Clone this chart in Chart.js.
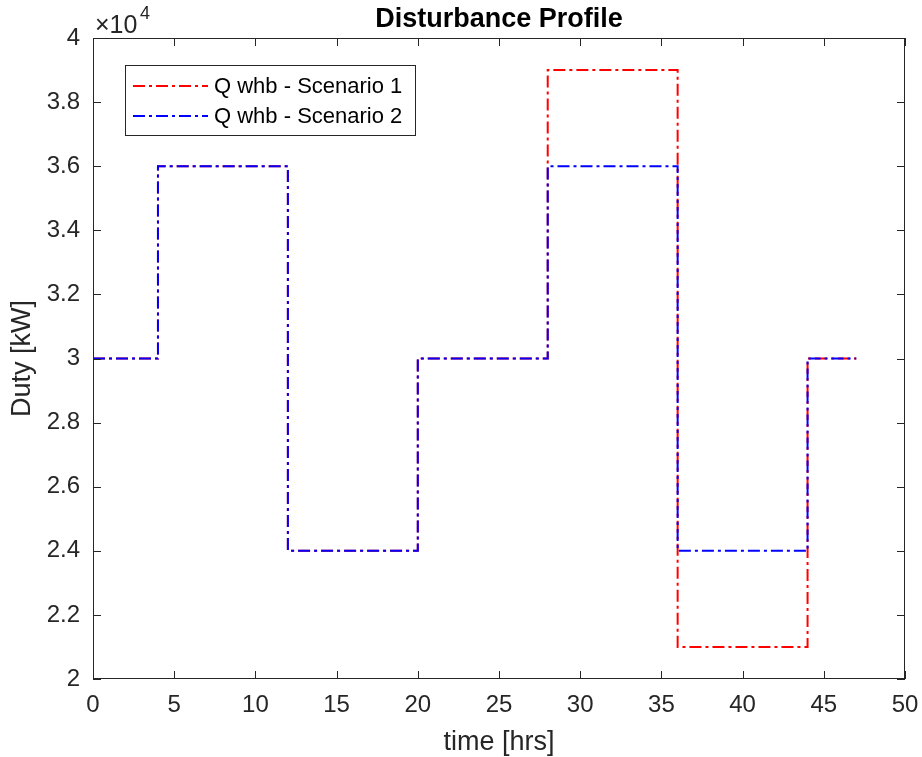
<!DOCTYPE html>
<html>
<head>
<meta charset="utf-8">
<script src="https://cdn.jsdelivr.net/npm/chart.js@4.4.1/dist/chart.umd.min.js"></script>
<style>
  html, body { margin: 0; padding: 0; background: #fff; }
  #wrap { width: 922px; height: 757px; }
</style>
</head>
<body>
<div id="wrap"><canvas id="chart" width="922" height="757"></canvas></div>
<script>
// step change times (hrs) and duties (kW)
const times = [0, 4, 12, 20, 28, 36, 44, 47];
const scenario1 = [30000, 36000, 24000, 30000, 39000, 21000, 30000, 30000];
const scenario2 = [30000, 36000, 24000, 30000, 36000, 24000, 30000, 30000];
const seriesNames = ["Q whb - Scenario 1", "Q whb - Scenario 2"];
const xTicks = [0, 5, 10, 15, 20, 25, 30, 35, 40, 45, 50];
const yTicks = [20000, 22000, 24000, 26000, 28000, 30000, 32000, 34000, 36000, 38000, 40000];

const axisColor = "#262626";
const dashDot = [12, 4, 3, 4];
const fontFam = "'Liberation Sans', Arial, sans-serif";

function pts(vals) {
  return times.map((t, i) => ({ x: t, y: vals[i] }));
}

// frame, inner ticks, exponent label, title and legend box
const matlabAxes = {
  id: "matlabAxes",
  afterDraw(chart) {
    const ctx = chart.ctx;
    const a = chart.chartArea;
    const xs = chart.scales.x, ys = chart.scales.y;
    ctx.save();
    ctx.strokeStyle = axisColor;
    ctx.lineWidth = 1;
    ctx.strokeRect(a.left + 0.5, a.top + 0.5, a.right - a.left - 1, a.bottom - a.top - 1);
    ctx.beginPath();
    xTicks.forEach(v => {
      const px = Math.round(xs.getPixelForValue(v)) + 0.5;
      ctx.moveTo(px, a.bottom); ctx.lineTo(px, a.bottom - 8);
      ctx.moveTo(px, a.top); ctx.lineTo(px, a.top + 8);
    });
    yTicks.forEach(v => {
      const py = Math.round(ys.getPixelForValue(v)) + 0.5;
      ctx.moveTo(a.left, py); ctx.lineTo(a.left + 8, py);
      ctx.moveTo(a.right, py); ctx.lineTo(a.right - 8, py);
    });
    ctx.stroke();

    // x10^4
    ctx.fillStyle = axisColor;
    ctx.textBaseline = "alphabetic";
    ctx.textAlign = "left";
    ctx.font = "25px " + fontFam;
    ctx.fillText("\u00d710", 95, 33);
    ctx.font = "18px " + fontFam;
    ctx.fillText("4", 140, 19);

    // title
    ctx.font = "bold 27px " + fontFam;
    ctx.textAlign = "center";
    ctx.fillStyle = "#000";
    ctx.fillText("Disturbance Profile", (a.left + a.right) / 2, 27);

    // legend
    const lx = 125, ly = 65, lw = 290, lh = 70;
    ctx.fillStyle = "#fff";
    ctx.fillRect(lx, ly, lw, lh);
    ctx.strokeStyle = axisColor;
    ctx.strokeRect(lx + 0.5, ly + 0.5, lw, lh);
    chart.data.datasets.forEach((ds, i) => {
      const yy = ly + 21 + i * 30;
      ctx.strokeStyle = ds.borderColor;
      ctx.lineWidth = 2;
      ctx.setLineDash(dashDot);
      ctx.beginPath();
      ctx.moveTo(lx + 8, yy); ctx.lineTo(lx + 83, yy);
      ctx.stroke();
      ctx.setLineDash([]);
      ctx.fillStyle = "#000";
      ctx.textAlign = "left";
      ctx.textBaseline = "middle";
      ctx.font = "22px " + fontFam;
      ctx.fillText(ds.label, lx + 89, yy + 1);
    });
    ctx.restore();
  }
};

new Chart(document.getElementById("chart"), {
  type: "line",
  data: {
    datasets: [
      {
        label: seriesNames[0],
        data: pts(scenario1),
        borderColor: "#ff0000",
        borderWidth: 2,
        borderDash: dashDot,
        stepped: "before",
        pointRadius: 0,
        fill: false,
        order: 1
      },
      {
        label: seriesNames[1],
        data: pts(scenario2),
        borderColor: "#0000ff",
        borderWidth: 2,
        borderDash: dashDot,
        stepped: "before",
        pointRadius: 0,
        fill: false,
        order: 0
      }
    ]
  },
  options: {
    responsive: false,
    animation: false,
    layout: { padding: { top: 38, right: 17, left: 0, bottom: 0 } },
    plugins: {
      legend: { display: false },
      title: { display: false },
      tooltip: { enabled: false }
    },
    scales: {
      x: {
        type: "linear",
        min: 0,
        max: 50,
        afterBuildTicks: s => { s.ticks = xTicks.map(v => ({ value: v })); },
        afterFit: s => { s.height = 78; s.paddingLeft = 0; s.paddingRight = 0; },
        grid: { display: false, drawTicks: false },
        border: { display: false },
        ticks: {
          color: axisColor,
          padding: 12,
          maxRotation: 0,
          font: { family: fontFam, size: 24 }
        },
        title: {
          display: true,
          text: "time [hrs]",
          color: axisColor,
          padding: { top: 0, bottom: -2 },
          font: { family: fontFam, size: 27 }
        }
      },
      y: {
        type: "linear",
        min: 20000,
        max: 40000,
        afterBuildTicks: s => { s.ticks = yTicks.map(v => ({ value: v })); },
        afterFit: s => { s.width = 93; s.paddingTop = 0; s.paddingBottom = 0; },
        grid: { display: false, drawTicks: false },
        border: { display: false },
        ticks: {
          color: axisColor,
          padding: 13,
          font: { family: fontFam, size: 24 },
          callback: v => String(+(v / 10000).toFixed(1))
        },
        title: {
          display: true,
          text: "Duty [kW]",
          color: axisColor,
          padding: { top: 6, bottom: 0 },
          font: { family: fontFam, size: 27 }
        }
      }
    }
  },
  plugins: [matlabAxes]
});
</script>
</body>
</html>
